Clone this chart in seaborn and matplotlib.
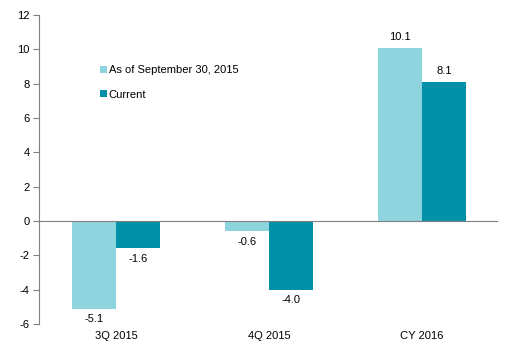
import matplotlib
matplotlib.use("Agg")
import matplotlib.pyplot as plt
import seaborn as sns
import pandas as pd

categories = ["3Q 2015", "4Q 2015", "CY 2016"]
series_names = ["As of September 30, 2015", "Current"]
sept_values = [-5.1, -0.6, 10.1]
current_values = [-1.6, -4.0, 8.1]
colors = ["#8DD4DF", "#0090A8"]

df = pd.DataFrame({
    "cat": categories * 2,
    "series": [series_names[0]] * 3 + [series_names[1]] * 3,
    "value": sept_values + current_values,
})

sns.set_theme(style="white")
plt.rcParams["font.family"] = ["Liberation Sans", "DejaVu Sans"]
plt.rcParams["axes.unicode_minus"] = False
plt.rcParams["text.color"] = "black"
plt.rcParams["xtick.color"] = "black"
plt.rcParams["ytick.color"] = "black"

fig = plt.figure(figsize=(5.06, 3.59), dpi=100)
ax = fig.add_axes([0.078, 0.0975, 0.907, 0.861])

sns.barplot(data=df, x="cat", y="value", hue="series", palette=colors,
            width=0.58, saturation=1, linewidth=0, ax=ax, legend=True)

ax.set_ylim(-6, 12)
ax.set_xlim(-0.5, 2.5)
ax.set_yticks(range(-6, 13, 2))
ax.set_xlabel("")
ax.set_ylabel("")
for s in ["top", "right", "bottom"]:
    ax.spines[s].set_visible(False)
ax.spines["left"].set_color("#808080")
ax.spines["left"].set_linewidth(0.8)
ax.axhline(0, color="#808080", lw=0.8, zorder=3)
ax.tick_params(axis="y", which="both", left=True, length=4, width=0.8,
               color="#808080", labelcolor="black", labelsize=8, pad=3, direction="out")
ax.tick_params(axis="x", length=0, labelsize=8, labelcolor="black", pad=5)

for container in ax.containers:
    for bar in container:
        v = bar.get_height()
        x = bar.get_x() + bar.get_width() / 2
        if v >= 0:
            ax.annotate(f"{v:.1f}", (x, v), xytext=(0, 4), textcoords="offset points",
                        ha="center", va="bottom", fontsize=8, color="black")
        else:
            ax.annotate(f"{v:.1f}", (x, v), xytext=(0, -4), textcoords="offset points",
                        ha="center", va="top", fontsize=8, color="black")

handles, labels = ax.get_legend_handles_labels()
leg = ax.legend(handles, labels, loc="upper left", bbox_to_anchor=(0.11, 0.87),
                frameon=False, fontsize=8, handlelength=0.6, handleheight=0.6,
                handletextpad=0.2, labelspacing=1.3)
for t in leg.get_texts():
    t.set_color("black")

fig.savefig("out.png", dpi=100)
